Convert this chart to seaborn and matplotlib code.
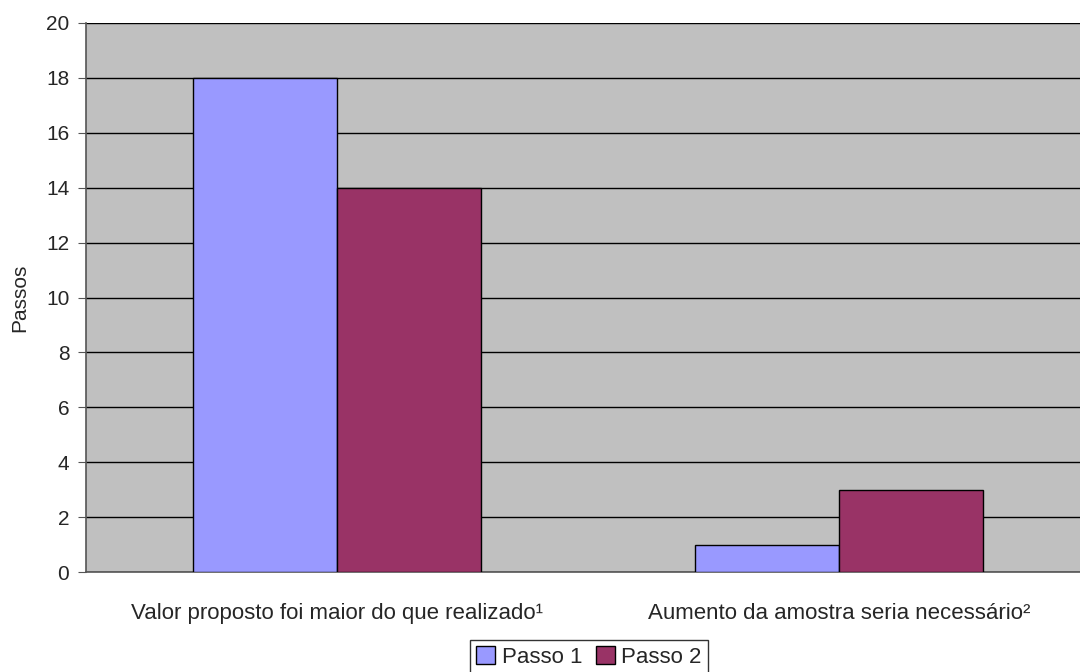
import matplotlib
matplotlib.use("Agg")
import matplotlib.pyplot as plt
import seaborn as sns
import pandas as pd
from matplotlib.ticker import FixedLocator

categories = ["Valor proposto foi maior do que realizado¹", "Aumento da amostra seria necessário²"]
series_names = ["Passo 1", "Passo 2"]
passo1 = [18, 1]
passo2 = [14, 3]
yticks = [0, 2, 4, 6, 8, 10, 12, 14, 16, 18, 20]

df = pd.DataFrame({
    "cat": categories * 2,
    "serie": [series_names[0]] * 2 + [series_names[1]] * 2,
    "val": passo1 + passo2,
})

sns.set_style("white")
plt.rcParams["font.family"] = ["Liberation Sans", "DejaVu Sans"]

fig = plt.figure(figsize=(10.8, 6.72), dpi=100)
ax = fig.add_axes([86/1080, 1 - 572/672, 1004/1080, 549/672])
ax.set_facecolor("#C0C0C0")

sns.barplot(data=df, x="cat", y="val", hue="serie", order=categories, hue_order=series_names,
            palette=["#9999FF", "#993366"], edgecolor="black", linewidth=1, width=0.574,
            saturation=1, ax=ax, zorder=3)

ax.set_xlim(-0.5, 1.5)
ax.set_ylim(0, 20)
ax.set_yticks(yticks)
ax.set_yticklabels([str(v) for v in yticks], fontsize=15)
ax.yaxis.grid(True, color="black", linewidth=1)
ax.set_axisbelow(True)
ax.set_xlabel("")
ax.set_ylabel("Passos", fontsize=15, labelpad=12)
ax.tick_params(axis="x", which="major", length=0, labelsize=16, pad=22)
ax.xaxis.set_minor_locator(FixedLocator([-0.5, 0.5, 1.5]))
ax.tick_params(axis="x", which="minor", length=6, color="#555555", direction="out")
ax.tick_params(axis="y", length=6, color="#555555", direction="out", left=True, pad=6)

for s in ["top", "right"]:
    ax.spines[s].set_visible(False)
for s in ["left", "bottom"]:
    ax.spines[s].set_color("#555555")
    ax.spines[s].set_linewidth(1.2)

ax.legend_.remove()
handles, labels = ax.get_legend_handles_labels()
leg = fig.legend(handles, labels, loc="lower center", bbox_to_anchor=(589/1080, -0.004), ncol=2,
                 fontsize=16, frameon=True, fancybox=False, edgecolor="black",
                 handlelength=0.85, handleheight=0.85, handletextpad=0.3, columnspacing=0.6,
                 borderpad=0.3, borderaxespad=0)
leg.get_frame().set_linewidth(1)

fig.savefig("out.png", dpi=100, facecolor="white")
